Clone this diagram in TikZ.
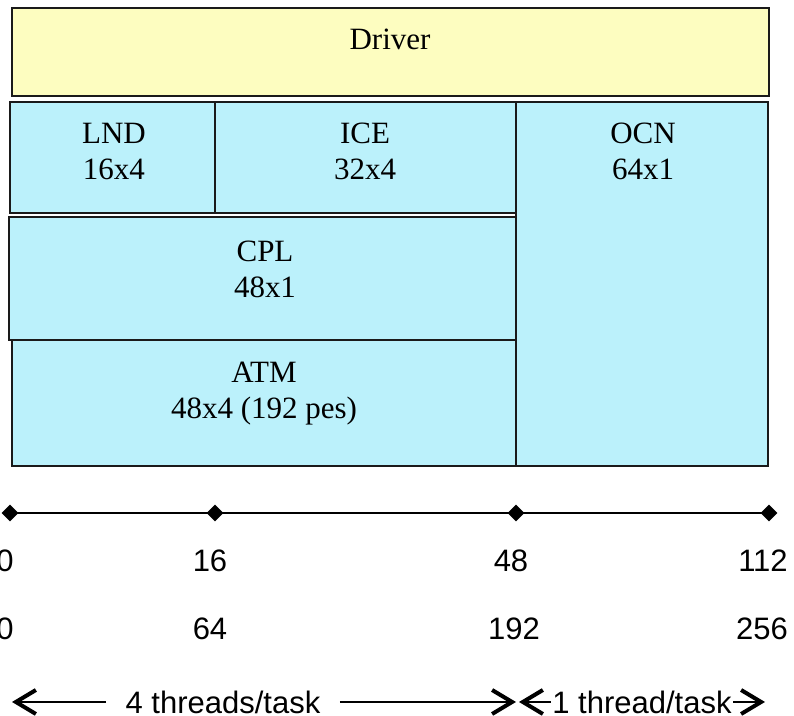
\documentclass[tikz,border=0pt]{standalone}
\usepackage{fontspec}
\setmainfont{Liberation Serif}
\setsansfont{Liberation Sans}
\usetikzlibrary{fit,shapes.geometric,arrows.meta}
\definecolor{drvfill}{HTML}{FDFDC0}
\definecolor{compfill}{HTML}{BBF1FB}
\definecolor{edge}{HTML}{1A1A1A}
\begin{document}
\begin{tikzpicture}[x=0.5pt,y=-0.5pt,
  box/.style={draw=edge,line width=1pt,inner sep=0pt},
  drvbox/.style={box,fill=drvfill},
  compbox/.style={box,fill=compfill},
  lbl/.style={inner sep=0pt,anchor=base,font=\fontsize{15.5}{18}\selectfont},
  num/.style={inner sep=0pt,anchor=base,font=\sffamily\fontsize{15.5}{18}\selectfont},
  tick/.style={diamond,fill=black,inner sep=0pt,minimum size=8.5pt},
  span/.style={line width=0.6pt,-{Straight Barb[length=10pt,width=12pt,line width=2pt]}},
  spantext/.style={font=\sffamily\fontsize{15.5}{18}\selectfont,inner ysep=0pt}]
\useasboundingbox (0,0) rectangle (794,716);

% driver and component blocks
\node[drvbox,fit={(12,8) (769,96)}] (driver) {};
\node[compbox,fit={(516,102) (768,466)}] (ocn) {};
\node[compbox,fit={(10,102) (215,213)}] (lnd) {};
\node[compbox,fit={(215,102) (516,213)}] (ice) {};
\node[compbox,fit={(9,217) (516,340)}] (cpl) {};
\node[compbox,fit={(12,340) (516,466)}] (atm) {};

% block labels
\node[lbl] (drvname) at (390,50) {Driver};
\node[lbl] (lndname) at (114,144) {LND};
\node[lbl] (lndsize) at (114,180) {16x4};
\node[lbl] (icename) at (365,144) {ICE};
\node[lbl] (icesize) at (365,180) {32x4};
\node[lbl] (ocnname) at (643,144) {OCN};
\node[lbl] (ocnsize) at (643,180) {64x1};
\node[lbl] (cplname) at (265,262) {CPL};
\node[lbl] (cplsize) at (265,298) {48x1};
\node[lbl] (atmname) at (264,383) {ATM};
\node[lbl] (atmsize) at (264,419) {48x4 (192 pes)};

% task axis
\node[tick] (d0) at (10,513) {};
\node[tick] (d1) at (215,513) {};
\node[tick] (d2) at (516,513) {};
\node[tick] (d3) at (769,513) {};
\draw[line width=1pt] (d0.center) -- (d1.center) -- (d2.center) -- (d3.center);

% task counts and pe counts
\node[num] (t0) at (5,572) {0};
\node[num] (t16) at (210,572) {16};
\node[num] (t48) at (511,572) {48};
\node[num] (t112) at (763,572) {112};
\node[num] (p0) at (5,640) {0};
\node[num] (p64) at (210,640) {64};
\node[num] (p192) at (514,640) {192};
\node[num] (p256) at (762,640) {256};

% thread spans
\coordinate (a0) at (12,702);
\coordinate (a1) at (516,702);
\coordinate (b0) at (519,702);
\coordinate (b1) at (765,702);
\node[spantext,inner xsep=9.5pt] (t4) at (223,702) {4 threads/task};
\node[spantext,inner xsep=0.5pt] (t1) at (642,702) {1 thread/task};
\draw[span] (t4.west) -- (a0);
\draw[span] (t4.east) -- (a1);
\draw[span] (t1.west) -- (b0);
\draw[span] (t1.east) -- (b1);
\end{tikzpicture}
\end{document}
